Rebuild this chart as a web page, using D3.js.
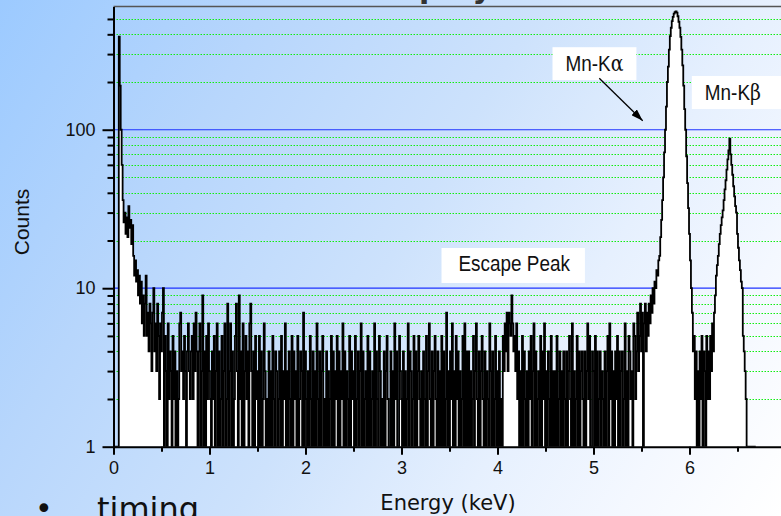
<!DOCTYPE html>
<html>
<head>
<meta charset="utf-8">
<script src="https://cdn.jsdelivr.net/npm/d3@7"></script>
<style>
  html, body { margin: 0; padding: 0; overflow: hidden; background: #fff; }
  svg { display: block; }
</style>
</head>
<body>
<svg id="chart" width="781" height="516"></svg>
<script>
// ---- spectrum data: counts per 10 eV channel ----
const channelWidthKeV = 0.01;

// channels 0-59 (0.00-0.59 keV): noise edge and low-energy tail
const lowEnergyCounts = [
  0, 0, 0, 0, 0, 1, 386, 190, 100, 60,
  36, 26, 30, 22, 28, 21, 33, 24, 27, 19,
  25, 16, 12, 15, 11, 13, 9, 12, 8, 11,
  6, 9, 5, 8, 12, 5, 7, 4, 8, 6,
  3, 7, 10, 4, 6, 3, 8, 5, 2, 6,
  4, 7, 10, 0, 5, 3, 0, 6, 2, 4
];

// channels 60-549 (0.60-5.49 keV): flat continuum, one digit per channel
const continuumCounts = [
  "3052413026", "7342530463", "2452637414", "6039041526", "3214250361",
  "4025136028", "0361402583", "0924160352", "4068304152", "3051402631",
  "2041305214", "3024150326", "1304205142", "3150243071", "4203152041",
  "3062140351", "2041302514", "0325140326", "1403215042", "3150240361",
  "4023150412", "3061420531", "2140352014", "0316240153", "2041302614",
  "3025140352", "1304215036", "2140352041", "3051402713", "0426130524",
  "1302516041", "4031250362", "1403520413", "2063140251", "3041205364",
  "7376596453", "6241305142", "0314250361", "4023150426", "1304215031",
  "3150240314", "2041352061", "3025140342", "1403625014", "3051402413",
  "2140350624", "0314251403", "4026130542", "3165247358"
];

// channels 550-669 (5.50-6.69 keV): Mn K-alpha and K-beta lines
const lineRegionCounts = [
  4, 7, 1, 6, 8, 4, 7, 5, 8, 6,
  9, 7, 10, 8, 11, 10, 13, 12, 15, 16,
  21, 27, 36, 50, 72, 100, 140, 200, 250, 320,
  390, 440, 485, 515, 540, 552, 558, 548, 520, 480,
  440, 385, 320, 255, 190, 135, 100, 68, 46, 32,
  22, 15, 10, 7, 4, 5, 2, 4, 1, 3,
  0, 4, 2, 5, 1, 4, 3, 0, 5, 2,
  4, 2, 5, 3, 6, 4, 7, 9, 12, 14,
  16, 19, 22, 25, 28, 31, 36, 42, 48, 56,
  65, 74, 88, 70, 60, 52, 44, 38, 33, 30,
  22, 18, 15, 13, 11, 10, 5, 4, 3, 2,
  0, 0, 0, 0, 0, 0, 0, 0, 0, 0
];

// ---- axis ticks ----
const xTickValues = [0, 1, 2, 3, 4, 5, 6, 7];
const xMinorTickValues = [0.5, 1.5, 2.5, 3.5, 4.5, 5.5, 6.5];
const yTickValues = [1, 10, 100];
const yMinorTickValues = [2, 3, 4, 5, 6, 7, 8, 9, 20, 30, 40, 50, 60, 70, 80, 90, 200, 300, 400, 500];
const yMajorGridValues = [10, 100];

// ---- assemble channel list ----
const counts = lowEnergyCounts
  .concat(continuumCounts.join("").split("").map(Number))
  .concat(lineRegionCounts);
const spectrum = counts.map((c, i) => ({ energy: i * channelWidthKeV, count: c }));

// ---- layout ----
const W = 781, H = 516;
const plot = { left: 113.5, top: 6.4, bottom: 446.7 };
const keVWidth = 96;

const svg = d3.select("#chart");
const defs = svg.append("defs");

const bg = defs.append("linearGradient")
  .attr("id", "slideBg")
  .attr("gradientUnits", "userSpaceOnUse")
  .attr("x1", 0).attr("y1", 0).attr("x2", 802).attr("y2", 481);
[[0, "#9ccaff"], [0.25, "#b7d6fc"], [0.5, "#cde2fc"], [0.7, "#e6f0fe"], [0.85, "#f4f8ff"], [1, "#ffffff"]]
  .forEach(([o, c]) => bg.append("stop").attr("offset", o).attr("stop-color", c));

svg.append("rect").attr("width", W).attr("height", H).attr("fill", "url(#slideBg)");

// slide heading, running off the top edge
svg.append("text")
  .attr("x", 145).attr("y", -2)
  .attr("font-family", "DejaVu Sans").attr("font-weight", "bold").attr("font-size", 30)
  .attr("fill", "#333")
  .text("Calibration Setup by ⁵⁵Fe Source");

const x = d3.scaleLinear().domain([0, 7]).range([plot.left, plot.left + 7 * keVWidth]);
const y = d3.scaleLog().domain([1, 600]).range([plot.bottom, plot.top]).clamp(true);

// ---- grid ----
const grid = svg.append("g");
grid.selectAll("line.minor").data(yMinorTickValues).join("line")
  .attr("class", "minor")
  .attr("x1", plot.left).attr("x2", W)
  .attr("y1", d => Math.round(y(d)) + 0.5).attr("y2", d => Math.round(y(d)) + 0.5)
  .attr("stroke", "#11ee11").attr("stroke-width", 1).attr("stroke-dasharray", "1.5,1.5");
grid.selectAll("line.major").data(yMajorGridValues).join("line")
  .attr("class", "major")
  .attr("x1", plot.left).attr("x2", W)
  .attr("y1", d => y(d)).attr("y2", d => y(d))
  .attr("stroke", "#1f33ff").attr("stroke-width", 1.2);

// top frame
svg.append("line")
  .attr("x1", plot.left).attr("x2", W)
  .attr("y1", plot.top).attr("y2", plot.top)
  .attr("stroke", "#555").attr("stroke-width", 1.5);

// ---- spectrum ----
svg.append("clipPath").attr("id", "plotClip")
  .append("rect").attr("x", plot.left).attr("y", plot.top)
  .attr("width", W - plot.left).attr("height", plot.bottom - plot.top);

const yc = d => y(Math.max(d.count, 1));
const area = d3.area().x(d => x(d.energy)).y0(y(1)).y1(yc).curve(d3.curveStep);
const line = d3.line().x(d => x(d.energy)).y(yc).curve(d3.curveStep);

const spec = svg.append("g").attr("clip-path", "url(#plotClip)");
spec.append("path").datum(spectrum).attr("d", area).attr("fill", "#fff");
spec.append("path").datum(spectrum).attr("d", line)
  .attr("fill", "none").attr("stroke", "#000").attr("stroke-width", 1.8)
  .attr("stroke-linejoin", "miter");

// ---- axes ----
const axisFont = "Liberation Sans, Arial, sans-serif";

svg.append("g").attr("transform", `translate(0,${plot.bottom})`)
  .call(d3.axisBottom(x).tickValues(xTickValues).tickFormat(d3.format("d"))
    .tickSize(8).tickSizeOuter(0).tickPadding(7));
svg.append("g").attr("transform", `translate(0,${plot.bottom})`)
  .call(d3.axisBottom(x).tickValues(xMinorTickValues).tickFormat("")
    .tickSize(5).tickSizeOuter(0))
  .call(g => g.select(".domain").remove());

svg.append("g").attr("transform", `translate(${plot.left},0)`)
  .call(d3.axisLeft(y).tickValues(yTickValues).tickFormat(d3.format("d"))
    .tickSize(11).tickSizeOuter(0).tickPadding(7));
svg.append("g").attr("transform", `translate(${plot.left},0)`)
  .call(d3.axisLeft(y).tickValues(yMinorTickValues).tickFormat("")
    .tickSize(6).tickSizeOuter(0))
  .call(g => g.select(".domain").remove());

svg.selectAll(".domain").attr("stroke", "#000").attr("stroke-width", 2);
svg.selectAll(".tick line").attr("stroke", "#000").attr("stroke-width", 2);
svg.selectAll(".tick text")
  .attr("font-family", axisFont).attr("font-size", 18).attr("fill", "#111");

// axis titles
svg.append("text")
  .attr("x", 448).attr("y", 510)
  .attr("text-anchor", "middle")
  .attr("font-family", "DejaVu Sans").attr("font-size", 21).attr("fill", "#111")
  .text("Energy (keV)");
svg.append("text")
  .attr("transform", "translate(29,222) rotate(-90)")
  .attr("text-anchor", "middle")
  .attr("font-family", axisFont).attr("font-size", 21).attr("fill", "#111")
  .text("Counts");

// ---- peak annotations ----
const labels = [
  { name: "Mn-K", greek: "α", energy: 5.01, count: 234, padL: 13, padR: 13, padT: 24, padB: 9 },
  { name: "Mn-K", greek: "β", energy: 6.452, count: 154, padL: 13, padR: 24, padT: 24, padB: 9 },
  { name: "Escape Peak", greek: "", energy: 4.174, count: 12.84, padL: 17, padR: 15, padT: 23, padB: 12 }
];
const squeeze = 0.86;
labels.forEach(l => {
  const cx = x(l.energy), by = y(l.count);
  const g = svg.append("g");
  const box = g.append("rect").attr("fill", "#fff");
  const t = g.append("text")
    .attr("transform", `translate(${cx},${by}) scale(${squeeze},1)`)
    .attr("text-anchor", "middle")
    .attr("font-family", axisFont).attr("font-size", 22).attr("fill", "#111");
  t.append("tspan").text(l.name);
  if (l.greek) t.append("tspan").attr("font-family", "DejaVu Serif").text(l.greek);
  const w = t.node().getComputedTextLength() * squeeze;
  box.attr("x", cx - w / 2 - l.padL).attr("y", by - l.padT)
     .attr("width", w + l.padL + l.padR).attr("height", l.padT + l.padB);
});

// arrow from the K-alpha label down toward the line
const arrowFrom = { energy: 5.06, count: 211 }, arrowTo = { energy: 5.5125, count: 114 };
defs.append("marker").attr("id", "arrowHead")
  .attr("viewBox", "0 0 12 8").attr("refX", 12).attr("refY", 4)
  .attr("markerWidth", 12).attr("markerHeight", 8).attr("markerUnits", "userSpaceOnUse")
  .attr("orient", "auto")
  .append("path").attr("d", "M0,0 L12,4 L0,8 Z").attr("fill", "#000");
svg.append("line")
  .attr("x1", x(arrowFrom.energy)).attr("y1", y(arrowFrom.count))
  .attr("x2", x(arrowTo.energy)).attr("y2", y(arrowTo.count))
  .attr("stroke", "#000").attr("stroke-width", 1.3)
  .attr("marker-end", "url(#arrowHead)");

// ---- slide bullet below the chart ----
svg.append("text").attr("x", 35).attr("y", 519)
  .attr("font-family", "DejaVu Sans").attr("font-size", 30).attr("fill", "#111").text("•");
svg.append("text").attr("x", 97).attr("y", 520)
  .attr("font-family", "DejaVu Sans").attr("font-size", 32).attr("fill", "#111").text("timing");
</script>
</body>
</html>
